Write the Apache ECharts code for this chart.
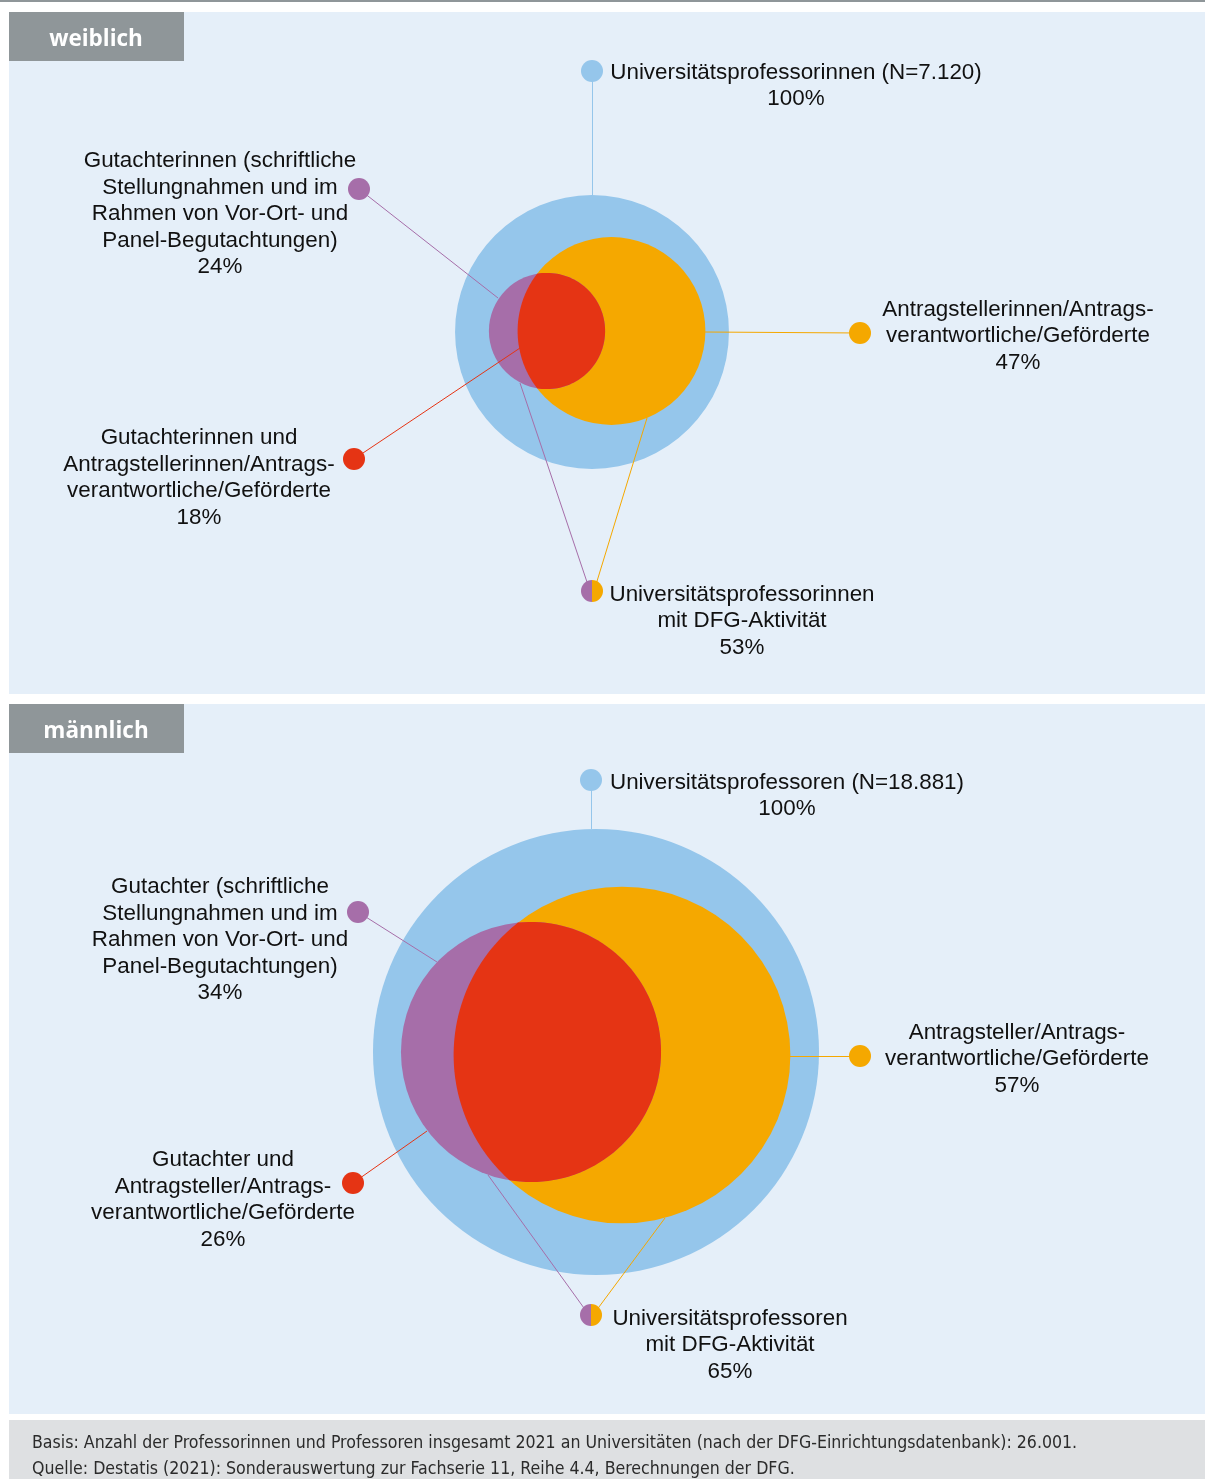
<!DOCTYPE html>
<html>
<head>
<meta charset="utf-8">
<script src="https://cdn.jsdelivr.net/npm/echarts@6/dist/echarts.min.js"></script>
<style>
html, body { margin: 0; padding: 0; background: #fff; }
#chart { width: 1205px; height: 1479px; }
</style>
</head>
<body>
<div id="chart"></div>
<script>
// ---- Daten ----
const panelTitles = ['weiblich', 'männlich'];
const totalN = [7120, 18881];
// Reihenfolge: Professorinnen gesamt, Antrag, Gutachten, beides, DFG-aktiv
const groupNamesW = [
  'Universitätsprofessorinnen',
  'Antragstellerinnen/Antrags-\nverantwortliche/Geförderte',
  'Gutachterinnen (schriftliche\nStellungnahmen und im\nRahmen von Vor-Ort- und\nPanel-Begutachtungen)',
  'Gutachterinnen und\nAntragstellerinnen/Antrags-\nverantwortliche/Geförderte',
  'Universitätsprofessorinnen\nmit DFG-Aktivität'
];
const groupNamesM = [
  'Universitätsprofessoren',
  'Antragsteller/Antrags-\nverantwortliche/Geförderte',
  'Gutachter (schriftliche\nStellungnahmen und im\nRahmen von Vor-Ort- und\nPanel-Begutachtungen)',
  'Gutachter und\nAntragsteller/Antrags-\nverantwortliche/Geförderte',
  'Universitätsprofessoren\nmit DFG-Aktivität'
];
const sharesW = [100, 47, 24, 18, 53];
const sharesM = [100, 57, 34, 26, 65];
// Kreisflaechen wie im Bild gezeichnet (gesamt, Antrag, Gutachten)
const circleSharesW = [100, 47, 18];
const circleSharesM = [100, 57, 34];

const footnotes = [
  'Basis: Anzahl der Professorinnen und Professoren insgesamt 2021 an Universitäten (nach der DFG-Einrichtungsdatenbank): 26.001.',
  'Quelle: Destatis (2021): Sonderauswertung zur Fachserie 11, Reihe 4.4, Berechnungen der DFG.'
];

// ---- Layout ----
const colors = { total: '#95c6eb', antrag: '#f5a800', gutacht: '#a66ea9', both: '#e53414', text: '#111111' };
const dotColors = [colors.total, colors.antrag, colors.gutacht, colors.both, null];
const pxPerSqrtPerson = 1.623;
// Kreismittelpunkte je Panel: gesamt, Antrag, Gutachten
const circleCenters = [
  [[592, 332], [611.5, 331], [547, 331]],
  [[596, 1052], [622, 1055], [531, 1052]]
];
// Punkte der Legenden-Marker
const dotPos = [
  [[592, 71], [860, 333], [359, 189], [354, 459], [592, 591]],
  [[591, 780], [860, 1056], [358, 912], [353, 1183], [591, 1315]]
];
// Textmitte relativ zum Punkt
const labelOffset = [
  [[204, 15], [158, 3], [-139, 25], [-155, 19], [150, 30]],
  [[196, 16], [157, 3], [-138, 28], [-130, 17], [139, 30]]
];
// Leitlinien: Ende am Kreis
const leaderEnds = [
  [[592, 195], [705, 332], [498, 298], [520, 348], [520, 383], [647, 418]],
  [[591, 829], [790, 1056], [437, 962], [427, 1131], [488, 1175], [665, 1218]]
];

function fmtN(n) {
  return String(n).replace(/\B(?=(\d{3})+(?!\d))/g, '.');
}

const names = [groupNamesW, groupNamesM];
const shares = [sharesW, sharesM];
const circleShares = [circleSharesW, circleSharesM];

function radius(p, share) {
  return pxPerSqrtPerson * Math.sqrt(totalN[p] * share / 100);
}

function lensPoints(c1, r1, c2, r2) {
  const dx = c2[0] - c1[0], dy = c2[1] - c1[1];
  const d = Math.hypot(dx, dy);
  const t1 = Math.atan2(dy, dx), t2 = Math.atan2(-dy, -dx);
  const a = Math.acos((d * d + r1 * r1 - r2 * r2) / (2 * d * r1));
  const b = Math.acos((d * d + r2 * r2 - r1 * r1) / (2 * d * r2));
  const pts = [];
  const n = 80;
  for (let i = 0; i <= n; i++) {
    const t = t1 - a + 2 * a * i / n;
    pts.push([c1[0] + r1 * Math.cos(t), c1[1] + r1 * Math.sin(t)]);
  }
  for (let i = 0; i <= n; i++) {
    const t = t2 - b + 2 * b * i / n;
    pts.push([c2[0] + r2 * Math.cos(t), c2[1] + r2 * Math.sin(t)]);
  }
  return pts;
}

// Kreise
const circleData = [0, 1].map(p => [p]);

// Linien
const lineData = [];
[0, 1].forEach(p => {
  const e = leaderEnds[p], d = dotPos[p];
  const segs = [
    [d[0], e[0], colors.total],
    [e[1], d[1], colors.antrag],
    [d[2], e[2], colors.gutacht],
    [d[3], e[3], colors.both],
    [e[4], [d[4][0] - 2, d[4][1]], colors.gutacht],
    [e[5], [d[4][0] + 2, d[4][1]], colors.antrag]
  ];
  segs.forEach(s => lineData.push({ coords: [s[0], s[1]], lineStyle: { color: s[2] } }));
});

// Punkte mit Beschriftung
const dotData = [];
[0, 1].forEach(p => {
  for (let i = 0; i < 5; i++) {
    let txt = names[p][i];
    if (i === 0) txt += ' (N=' + fmtN(totalN[p]) + ')';
    txt += '\n' + shares[p][i] + '%';
    dotData.push({
      value: dotPos[p][i],
      itemStyle: { color: dotColors[i] || 'rgba(0,0,0,0)', opacity: 1 },
      label: { offset: labelOffset[p][i], formatter: txt }
    });
  }
});
const halfDots = [dotPos[0][4], dotPos[1][4]];

const footFont = '17.6px "Liberation Sans Narrow", "DejaVu Sans Condensed", sans-serif';
const tabFont = 'bold 22.5px "Open Sans", sans-serif';

const chart = echarts.init(document.getElementById('chart'));
chart.setOption({
  animation: false,
  grid: { left: 0, right: 0, top: 0, bottom: 0 },
  xAxis: { type: 'value', min: 0, max: 1205, show: false },
  yAxis: { type: 'value', min: 0, max: 1479, inverse: true, show: false },
  graphic: [
    { type: 'rect', shape: { x: 0, y: 0, width: 1205, height: 2 }, style: { fill: '#8f9699' }, z: -10 },
    { type: 'rect', shape: { x: 9, y: 12, width: 1196, height: 682 }, style: { fill: '#e5eff9' }, z: -10 },
    { type: 'rect', shape: { x: 9, y: 704, width: 1196, height: 710 }, style: { fill: '#e5eff9' }, z: -10 },
    { type: 'rect', shape: { x: 9, y: 12, width: 175, height: 49 }, style: { fill: '#8f9699' }, z: -9 },
    { type: 'rect', shape: { x: 9, y: 704, width: 175, height: 49 }, style: { fill: '#8f9699' }, z: -9 },
    { type: 'text', x: 96, y: 39.5, z: -8, style: { text: panelTitles[0], fill: '#fff', font: tabFont, align: 'center', verticalAlign: 'middle' } },
    { type: 'text', x: 96, y: 731.5, z: -8, style: { text: panelTitles[1], fill: '#fff', font: tabFont, align: 'center', verticalAlign: 'middle' } },
    { type: 'rect', shape: { x: 9, y: 1420, width: 1196, height: 59 }, style: { fill: '#dee0e2' }, z: -10 },
    { type: 'text', x: 32, y: 1443, z: -8, style: { text: footnotes[0], fill: '#2b2b2b', font: footFont, verticalAlign: 'middle' } },
    { type: 'text', x: 32, y: 1469, z: -8, style: { text: footnotes[1], fill: '#2b2b2b', font: footFont, verticalAlign: 'middle' } }
  ],
  series: [
    {
      type: 'custom',
      z: 1,
      silent: true,
      data: circleData,
      renderItem: function (params, api) {
        const p = api.value(0);
        const cc = circleCenters[p];
        const pts = cc.map(c => api.coord(c));
        const rs = circleShares[p].map(s => api.size([radius(p, s), 0])[0]);
        const lens = lensPoints(pts[2], rs[2], pts[1], rs[1]);
        return {
          type: 'group',
          children: [
            { type: 'circle', shape: { cx: pts[0][0], cy: pts[0][1], r: rs[0] }, style: { fill: colors.total } },
            { type: 'circle', shape: { cx: pts[1][0], cy: pts[1][1], r: rs[1] }, style: { fill: colors.antrag } },
            { type: 'circle', shape: { cx: pts[2][0], cy: pts[2][1], r: rs[2] }, style: { fill: colors.gutacht } },
            { type: 'polygon', shape: { points: lens }, style: { fill: colors.both } }
          ]
        };
      }
    },
    {
      type: 'lines',
      coordinateSystem: 'cartesian2d',
      z: 2,
      silent: true,
      lineStyle: { width: 1, opacity: 1 },
      data: lineData
    },
    {
      type: 'scatter',
      z: 3,
      silent: true,
      symbolSize: 22,
      data: dotData,
      itemStyle: { opacity: 1 },
      label: {
        show: true,
        position: 'inside',
        align: 'center',
        verticalAlign: 'middle',
        color: colors.text,
        opacity: 1,
        fontFamily: 'Liberation Sans',
        fontSize: 22.4,
        lineHeight: 26.5
      }
    },
    {
      type: 'custom',
      z: 4,
      silent: true,
      data: halfDots,
      renderItem: function (params, api) {
        const c = api.coord([api.value(0), api.value(1)]);
        return {
          type: 'group',
          children: [
            { type: 'sector', shape: { cx: c[0], cy: c[1], r0: 0, r: 11, startAngle: Math.PI / 2, endAngle: Math.PI * 1.5, clockwise: true }, style: { fill: colors.gutacht } },
            { type: 'sector', shape: { cx: c[0], cy: c[1], r0: 0, r: 11, startAngle: -Math.PI / 2, endAngle: Math.PI / 2, clockwise: true }, style: { fill: colors.antrag } }
          ]
        };
      }
    }
  ]
});
</script>
</body>
</html>
